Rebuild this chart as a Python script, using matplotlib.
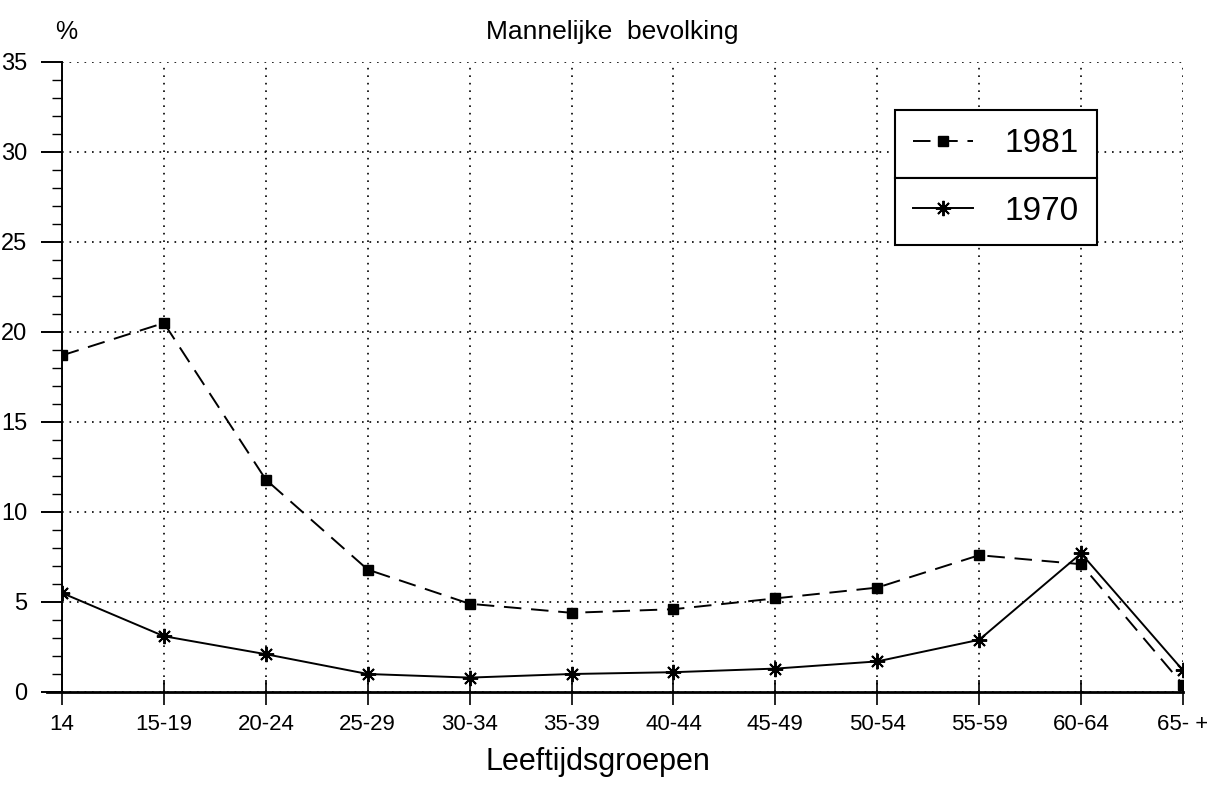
#!/usr/bin/env python
"""
Male population by age group, 1970 vs 1981.
"""

import matplotlib.pyplot as plt
from matplotlib.ticker import MultipleLocator

# age groups on the x axis
groups = ['14', '15-19', '20-24', '25-29', '30-34', '35-39', '40-44',
          '45-49', '50-54', '55-59', '60-64', '65- +']

# share of male population (%) per age group
pct_1981 = [18.7, 20.5, 11.8, 6.8, 4.9, 4.4, 4.6, 5.2, 5.8, 7.6, 7.1, 0.4]
pct_1970 = [5.5, 3.1, 2.1, 1.0, 0.8, 1.0, 1.1, 1.3, 1.7, 2.9, 7.7, 1.2]

plt.rcParams['font.family'] = ['Liberation Sans', 'DejaVu Sans']

# init figure
fig = plt.figure(figsize=(12.07, 8.0), dpi=100)
ax = fig.add_axes([62/1207, 108/800, 1121/1207, 630/800])

xs = range(len(groups))

# plot both series
l81, = ax.plot(xs, pct_1981, color='black', linestyle=(0, (9, 5)),
               linewidth=1.4, marker='s', markersize=7, label='1981')
l70, = ax.plot(xs, pct_1970, color='black', linestyle='-', linewidth=1.4,
               marker=(8, 2, 0), markersize=11, markeredgewidth=1.4,
               label='1970')

# axes limits and ticks
ax.set_xlim(0, len(groups) - 1)
ax.set_ylim(0, 35)
ax.set_xticks(list(xs))
ax.set_xticklabels(groups, fontsize=16)
ax.yaxis.set_major_locator(MultipleLocator(5))
ax.yaxis.set_minor_locator(MultipleLocator(1))
ax.tick_params(axis='y', which='major', length=15, width=1.4, labelsize=17,
               direction='out', pad=10)
ax.tick_params(axis='y', which='minor', length=7, width=1.0, direction='out')
ax.tick_params(axis='x', which='major', length=18, width=1.2, direction='inout',
               pad=7)

# dotted grid, open frame
ax.grid(True, which='major', linestyle=(0, (1, 3.5)), color='black',
        linewidth=1.2)
ax.spines['top'].set_visible(False)
ax.spines['right'].set_visible(False)
ax.spines['left'].set_linewidth(1.4)
ax.spines['bottom'].set_linewidth(2.0)
ax.spines['bottom'].set_bounds(-0.15, len(groups) - 1)
for spine in ('left', 'bottom'):
    ax.spines[spine].set_zorder(5)

# labels
fig.text(55/1207, 1 - 32/800, '%', fontsize=18, ha='left', va='center')
fig.text(612/1207, 1 - 32/800, 'Mannelijke  bevolking', fontsize=19,
         ha='center', va='center')
fig.text(598/1207, 1 - 762/800, 'Leeftijdsgroepen', fontsize=22,
         ha='center', va='center')

# legend as two stacked boxes
box = dict(frameon=True, fancybox=False, edgecolor='black', framealpha=1,
           fontsize=24, handlelength=1.8, handletextpad=0.95, borderpad=0.55,
           loc='upper left', borderaxespad=0)
leg1 = ax.legend(handles=[l81], bbox_to_anchor=(0.743, 0.924), **box)
leg1.get_frame().set_linewidth(1.5)
ax.add_artist(leg1)

# second box starts where the first one ends
fig.canvas.draw()
bb = leg1.get_window_extent().transformed(ax.transAxes.inverted())
leg2 = ax.legend(handles=[l70], bbox_to_anchor=(0.743, bb.y0), **box)
leg2.get_frame().set_linewidth(1.5)

fig.savefig('out.png', dpi=100)
